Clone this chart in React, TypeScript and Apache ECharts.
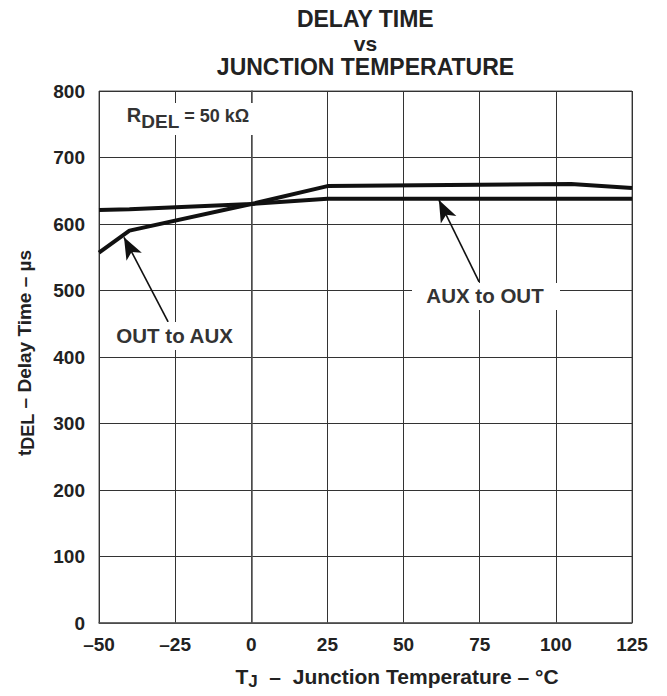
import React, { useEffect, useRef } from 'react';
import * as echarts from 'echarts';

// ---- data ----
const outToAuxTemp = [-50, -40, 0, 25, 105, 125];
const outToAuxDelay = [557, 590, 630, 657, 660, 654];
const auxToOutTemp = [-50, -40, 0, 25, 125];
const auxToOutDelay = [621, 622, 630, 638, 638];
const arrowOutToAux = [[-27.3, 453], [-41.8, 580]];
const arrowAuxToOut = [[74.8, 513], [61.6, 636]];
const titleLines = ['DELAY TIME', 'vs', 'JUNCTION TEMPERATURE'];
const xRange = [-50, 125, 25];
const yRange = [0, 800, 100];

const FONT = '"Liberation Sans", Arial, Helvetica, sans-serif';
const DARK = '#222';
const LABEL = '#333';

let ctx: CanvasRenderingContext2D | null = null;
function measure(text: string, size: number) {
  if (!ctx) ctx = document.createElement('canvas').getContext('2d');
  if (!ctx) return text.length * size * 0.55;
  ctx.font = `bold ${size}px ${FONT}`;
  return ctx.measureText(text).width;
}

type Part = { text: string; size: number; dy?: number };
function run(parts: Part[], cx: number, cy: number, color: string, z = 20) {
  const total = parts.reduce((s, p) => s + measure(p.text, p.size), 0);
  let x = cx - total / 2;
  return parts.map((p) => {
    const el = {
      type: 'text',
      z,
      x,
      y: cy + (p.dy || 0),
      style: {
        text: p.text,
        fill: color,
        font: `bold ${p.size}px ${FONT}`,
        align: 'left',
        textAlign: 'left',
        verticalAlign: 'middle',
        textVerticalAlign: 'middle',
      },
    };
    x += measure(p.text, p.size);
    return el;
  });
}

function whiteRect(x: number, y: number, w: number, h: number) {
  return { type: 'rect', z: 10, shape: { x, y, width: w, height: h }, style: { fill: '#fff' } };
}

export default function App() {
  const ref = useRef<HTMLDivElement>(null);
  useEffect(() => {
    if (!ref.current) return;
    const chart = echarts.init(ref.current, undefined, { renderer: 'svg' });
    const cx = 365.5;
    const graphic: any[] = [
      ...run([{ text: titleLines[0], size: 23 }], cx, 19, DARK),
      ...run([{ text: titleLines[1], size: 21 }], cx, 43, DARK),
      ...run([{ text: titleLines[2], size: 23 }], cx, 67, DARK),
      whiteRect(112, 103, 150, 32),
      ...run(
        [
          { text: 'R', size: 20 },
          { text: 'DEL', size: 19, dy: 6.5 },
          { text: ' = 50 k\u03A9', size: 18, dy: 0.5 },
        ],
        188,
        115,
        LABEL
      ),
      whiteRect(105, 322, 140, 28),
      ...run([{ text: 'OUT to AUX', size: 20.5 }], 175, 335, LABEL),
      whiteRect(412, 283, 148, 27),
      ...run([{ text: 'AUX to OUT', size: 20.5 }], 485, 295, LABEL),
      ...run(
        [
          { text: 'T', size: 21 },
          { text: 'J', size: 17, dy: 5 },
          { text: '  \u2013  Junction Temperature \u2013 \u00B0C', size: 21 },
        ],
        397,
        676,
        DARK
      ),
      {
        type: 'group',
        x: 24,
        y: 353,
        rotation: Math.PI / 2,
        children: run(
          [
            { text: 't', size: 19 },
            { text: 'DEL', size: 18, dy: 4 },
            { text: ' \u2013 Delay Time \u2013 \u00B5s', size: 19 },
          ],
          0,
          0,
          DARK
        ),
      },
    ];

    const arrowLine = (pts: number[][]) => ({
      silent: true,
      symbol: ['none', 'arrow'],
      symbolSize: [13, 22],
      label: { show: false },
      lineStyle: { color: '#111', width: 1.6, type: 'solid' },
      data: [[{ coord: pts[0] }, { coord: pts[1] }]],
    });

    chart.setOption({
      animation: false,
      backgroundColor: '#fff',
      grid: { left: 99, top: 91, width: 533, height: 532, show: true, borderColor: '#555', borderWidth: 1 },
      xAxis: {
        type: 'value',
        min: xRange[0],
        max: xRange[1],
        interval: xRange[2],
        axisLine: { show: true, lineStyle: { color: '#555', width: 1.5 } },
        axisTick: { show: false },
        splitLine: { show: true, lineStyle: { color: '#333', width: 1 } },
        axisLabel: {
          fontSize: 19,
          fontWeight: 'bold',
          fontFamily: FONT,
          color: DARK,
          margin: 12,
          showMinLabel: true,
          showMaxLabel: true,
          formatter: (v: number) => String(v).replace('-', '\u2013'),
        },
      },
      yAxis: {
        type: 'value',
        min: yRange[0],
        max: yRange[1],
        interval: yRange[2],
        axisLine: { show: true, lineStyle: { color: '#555', width: 1.5 } },
        axisTick: { show: false },
        splitLine: { show: true, lineStyle: { color: '#333', width: 1 } },
        axisLabel: {
          fontSize: 19,
          fontWeight: 'bold',
          fontFamily: FONT,
          color: DARK,
          margin: 14,
          showMinLabel: true,
          showMaxLabel: true,
        },
      },
      series: [
        {
          name: 'OUT to AUX',
          type: 'line',
          symbol: 'none',
          lineStyle: { color: '#111', width: 4 },
          data: outToAuxTemp.map((t, i) => [t, outToAuxDelay[i]]),
          markLine: arrowLine(arrowOutToAux),
          z: 3,
        },
        {
          name: 'AUX to OUT',
          type: 'line',
          symbol: 'none',
          lineStyle: { color: '#111', width: 4 },
          data: auxToOutTemp.map((t, i) => [t, auxToOutDelay[i]]),
          markLine: arrowLine(arrowAuxToOut),
          z: 3,
        },
      ],
      graphic,
    });
    return () => chart.dispose();
  }, []);
  return (
    <div
      ref={ref}
      style={{ position: 'fixed', left: 0, top: 0, width: 667, height: 696, background: '#fff' }}
    />
  );
}
